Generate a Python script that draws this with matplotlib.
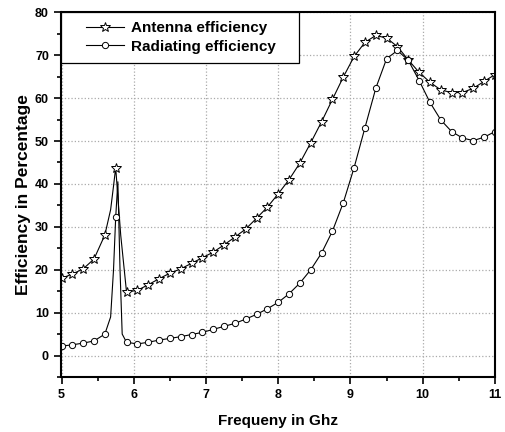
import numpy as np
import matplotlib.pyplot as plt
from matplotlib.ticker import MultipleLocator
from matplotlib.legend_handler import HandlerLine2D

plt.rcParams['font.family'] = ['Liberation Sans', 'DejaVu Sans']
plt.rcParams['font.weight'] = 'bold'

# sampled frequencies (GHz), one marker each
freq = [5.0, 5.15, 5.3, 5.45, 5.6, 5.75, 5.9, 6.05, 6.2, 6.35, 6.5, 6.65, 6.8,
        6.95, 7.1, 7.25, 7.4, 7.55, 7.7, 7.85, 8.0, 8.15, 8.3, 8.45, 8.6,
        8.75, 8.9, 9.05, 9.2, 9.35, 9.5, 9.65, 9.8, 9.95, 10.1, 10.25, 10.4,
        10.55, 10.7, 10.85, 11.0]

antenna = [18.0, 19.0, 20.2, 22.5, 28.1, 43.8, 14.8, 15.2, 16.5, 17.9, 19.2,
           20.2, 21.5, 22.8, 24.1, 25.8, 27.6, 29.5, 32.0, 34.6, 37.7, 41.0,
           44.9, 49.6, 54.5, 59.7, 64.9, 69.7, 73.0, 74.6, 74.0, 72.0, 68.9,
           66.0, 63.7, 61.9, 61.3, 61.3, 62.3, 63.9, 65.5]

radiating = [2.2, 2.5, 2.9, 3.4, 5.0, 32.2, 3.1, 2.7, 3.1, 3.6, 4.0, 4.4, 4.9,
             5.4, 6.1, 6.8, 7.5, 8.5, 9.6, 10.9, 12.4, 14.4, 16.9, 20.0, 23.9,
             29.0, 35.6, 43.8, 53.1, 62.3, 69.2, 71.1, 68.8, 64.1, 59.0, 54.9,
             52.2, 50.7, 50.1, 50.9, 52.2]

# extra line points around the sharp resonance near 5.75 GHz (no markers)
ant_peak_f = [5.68, 5.72, 5.82]
ant_peak_v = [34.0, 39.5, 28.0]
rad_peak_f = [5.68, 5.72, 5.78, 5.81, 5.84]
rad_peak_v = [9.0, 20.0, 40.5, 20.0, 5.0]


def merged(f, v, ef, ev):
    pts = sorted(zip(list(f) + ef, list(v) + ev))
    return [p[0] for p in pts], [p[1] for p in pts]


fig = plt.figure(figsize=(5.06, 4.32), dpi=100)
ax_w = (495 - 61.5) / 506
ax = fig.add_axes([61.5 / 506, 55 / 432, ax_w, (377 - 12.3) / 432])

af, av = merged(freq, antenna, ant_peak_f, ant_peak_v)
rf, rv = merged(freq, radiating, rad_peak_f, rad_peak_v)

star = dict(marker='*', ms=7, mfc='white', mec='black', mew=0.7)
circ = dict(marker='o', ms=4.5, mfc='white', mec='black', mew=0.7)

ax.plot(af, av, color='black', lw=0.8)
ax.plot(rf, rv, color='black', lw=0.8)
ax.plot(freq, antenna, ls='none', **star)
ax.plot(freq, radiating, ls='none', **circ)

# legend handles
h1, = ax.plot([], [], color='black', lw=0.8, **star)
h2, = ax.plot([], [], color='black', lw=0.8, **circ)
leg = ax.legend([h1, h2], ['Antenna efficiency', 'Radiating efficiency'],
                loc='upper left', bbox_to_anchor=(0, 0, (299 - 61.5) / 433.5, 1),
                mode='expand', borderaxespad=0,
                fancybox=False, framealpha=1, edgecolor='black',
                prop={'weight': 'bold', 'size': 11}, handlelength=3.5,
                handletextpad=0.45, borderpad=0.6, labelspacing=0.28,
                handler_map={h1: HandlerLine2D(xpad=1.0), h2: HandlerLine2D(xpad=1.0)})
leg.get_frame().set_linewidth(0.9)

ax.set_xlim(5, 11)
ax.set_ylim(-5, 80)
ax.xaxis.set_major_locator(MultipleLocator(1))
ax.xaxis.set_minor_locator(MultipleLocator(0.5))
ax.yaxis.set_major_locator(MultipleLocator(10))
ax.yaxis.set_minor_locator(MultipleLocator(5))
ax.tick_params(which='both', direction='out', top=False, right=False, width=1.2)
ax.tick_params(which='major', length=5, labelsize=9, pad=4)
ax.tick_params(which='minor', length=3)
for lab in ax.get_xticklabels() + ax.get_yticklabels():
    lab.set_fontweight('bold')
for s in ax.spines.values():
    s.set_linewidth(1.5)

ax.grid(True, which='major', color='#aaaaaa', ls=':', lw=0.9)
ax.set_axisbelow(True)

ax.set_xlabel('Frequeny in Ghz', fontsize=11, fontweight='bold', labelpad=9)
ax.set_ylabel('Efficiency in Percentage', fontsize=12.5, fontweight='bold', labelpad=3)

fig.savefig('out.png', dpi=100)
